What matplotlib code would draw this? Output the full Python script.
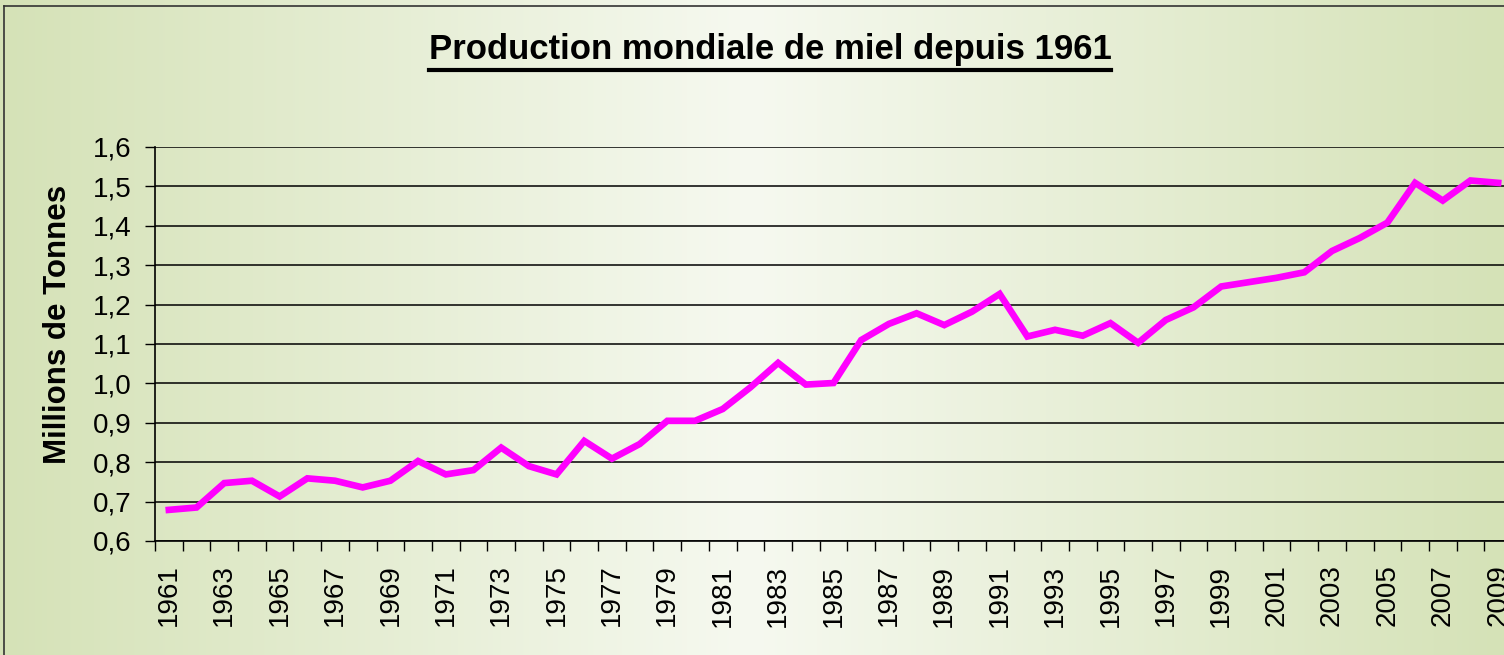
import numpy as np
import matplotlib.pyplot as plt
from matplotlib.colors import LinearSegmentedColormap
from matplotlib.lines import Line2D
from matplotlib.ticker import FixedLocator, MultipleLocator, FuncFormatter

years = list(range(1961, 2010))
production = [0.679, 0.685, 0.747, 0.753, 0.713, 0.759, 0.753, 0.736, 0.753, 0.803,
              0.769, 0.780, 0.837, 0.790, 0.769, 0.854, 0.809, 0.846, 0.905, 0.905,
              0.935, 0.990, 1.052, 0.997, 1.001, 1.110, 1.151, 1.178, 1.148, 1.182,
              1.227, 1.119, 1.136, 1.121, 1.153, 1.103, 1.161, 1.193, 1.246, 1.257,
              1.268, 1.282, 1.336, 1.369, 1.408, 1.509, 1.464, 1.515, 1.509]
label_years = years[::2]

W, H = 1504, 655
fig = plt.figure(figsize=(W / 100, H / 100), dpi=100)

# background gradient (green at edges, almost white in the middle)
bg = fig.add_axes([0, 0, 1, 1], zorder=-10)
cmap = LinearSegmentedColormap.from_list('bg', ['#d5e2b7', '#f6f9f0', '#d5e2b7'])
grad = np.linspace(0, 1, 512).reshape(1, -1)
bg.imshow(grad, aspect='auto', cmap=cmap, extent=[0, 1, 0, 1])
bg.set_xlim(0, 1)
bg.set_ylim(0, 1)
bg.axis('off')

# outer frame (left and top edges visible)
fig.add_artist(Line2D([3.5 / W, 3.5 / W], [0, 1 - 6 / H], color='#333333', lw=1.2))
fig.add_artist(Line2D([3.5 / W, 1], [1 - 6 / H, 1 - 6 / H], color='#333333', lw=1.2))

ax = fig.add_axes([155 / W, 114 / H, (1512 - 155) / W, (541 - 147) / H])
ax.patch.set_alpha(0)
ax.plot(years, production, color='#ff00ff', lw=4.8, solid_joinstyle='miter', zorder=3)

ax.set_xlim(1960.5, 2009.5)
ax.set_ylim(0.6, 1.6)
ax.yaxis.set_major_locator(MultipleLocator(0.1))
ax.yaxis.set_major_formatter(FuncFormatter(lambda v, p: f'{v:.1f}'.replace('.', ',')))
ax.grid(axis='y', color='black', lw=1.1)
ax.set_axisbelow(True)

ax.xaxis.set_major_locator(FixedLocator(label_years))
ax.set_xticklabels([str(y) for y in label_years], rotation=90, fontsize=20,
                   family='Liberation Sans')
ax.xaxis.set_minor_locator(FixedLocator(np.arange(1960.5, 2010, 1)))
ax.tick_params(axis='x', which='major', length=0, pad=17)
ax.tick_params(axis='x', which='minor', length=7, width=1, color='black', direction='out')
ax.tick_params(axis='y', length=7, width=1, color='black', pad=10, labelsize=20)
for lab in ax.get_yticklabels():
    lab.set_family('Liberation Sans')

for s in ['top', 'right']:
    ax.spines[s].set_visible(False)
ax.spines['left'].set_color('black')
ax.spines['left'].set_linewidth(1.2)
ax.spines['bottom'].set_color('black')
ax.spines['bottom'].set_linewidth(1.2)

fig.text(58 / W, 0.505, 'Millions de Tonnes', rotation=90, ha='center', va='center',
         fontsize=22.5, fontweight='bold', family='Liberation Sans')

title = fig.text(770 / W, 1 - 50 / H, 'Production mondiale de miel depuis 1961',
                 ha='center', va='center', fontsize=25, fontweight='bold',
                 family='Liberation Sans')

# underline of the title
fig.canvas.draw()
bb = title.get_window_extent().transformed(fig.transFigure.inverted())
fig.add_artist(Line2D([bb.x0, bb.x1], [1 - 70 / H, 1 - 70 / H], color='black', lw=3))

fig.savefig('out.png', dpi=100)
